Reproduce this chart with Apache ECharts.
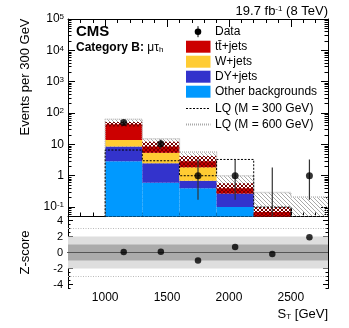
<!DOCTYPE html>
<html>
<head>
<meta charset="utf-8">
<script src="https://cdn.jsdelivr.net/npm/echarts@6/dist/echarts.min.js"></script>
<style>
html, body { margin: 0; padding: 0; background: #fff; }
#chart { width: 349px; height: 328px; }
</style>
</head>
<body>
<div id="chart"></div>
<script>
// bin edges of S_T (GeV)
const edges = [1000, 1300, 1600, 1900, 2200, 2500, 2800]
// backgrounds, events per bin, stacked bottom -> top
const other = [2.9, 0.6, 0.40, 0.10, 0, 0]
const dyJets = [5.6, 1.9, 0.29, 0.17, 0, 0]
const wJets = [5.4, 2.9, 1.16, 0, 0, 0]
const ttJets = [30, 3.1, 1.05, 0.13, 0.07, 0]
// background uncertainty band
const bandLow = [37, 5.4, 1.85, 0.27, 0.04, 0]
const bandHigh = [52, 12.1, 4.25, 0.57, 0.1, 0]
// signal
const lq300 = [6.6, 3.0, 1.0, 3.3, 0.1, 0.02]
const lq600 = [63, 15.2, 5.7, 1.0, 0.29, 0.21]
// observed
const obs = [50, 10.5, 1, 1, 0, 1]
const obsLow = [43, 7.3, 0.17, 0.17, 0, 0.17]
const obsHigh = [57, 14.3, 3.3, 3.3, 1.84, 3.3]
const zScore = [0.05, 0.1, -1.0, 0.7, -0.2, 1.9]
// ticks
const xTicks = [1000, 1500, 2000, 2500]
const yTicks = [0.1, 1, 10, 100, 1000, 10000, 100000]
const zTicks = [-4, -2, 0, 2, 4]
const zBands = [2, 1]
const zLines = [3, -3]

const FONT = '"Liberation Sans", Arial, sans-serif'
const colors = {tt: '#cc0000', w: '#ffcc33', dy: '#3333cc', other: '#0099ff'}

const xMinor = []
for (let v = 800; v < 2800; v += 100) xMinor.push(v)
const yMinor = []
for (let e = -2; e < 5; e++) {
  for (let k = 2; k < 10; k++) {
    const v = k * Math.pow(10, e)
    if (v > 0.05 && v < 1e5) yMinor.push(v)
  }
}
const zMinor = []
for (let v = -4.5; v <= 4.5; v += 0.5) zMinor.push(v)

const centers = edges.slice(0, -1).map((e, i) => (e + edges[i + 1]) / 2)

// small pixel patterns for hatched fills
function pattern(size, pix, color) {
  const c = document.createElement('canvas')
  c.width = c.height = size
  const g = c.getContext('2d')
  g.fillStyle = color
  pix.forEach(p => g.fillRect(p[0], p[1], 1, 1))
  return {image: c, repeat: 'repeat'}
}
const greyHatch = pattern(4, [[0, 0], [1, 1], [2, 2], [3, 3]], '#a9a9a9')
const redHatch = pattern(4, [[0, 0], [1, 1], [2, 2], [3, 3], [3, 0], [2, 1], [1, 2], [0, 3]], '#7a0000')

function rect(api, x0, x1, lo, hi, style) {
  const a = api.coord([x0, hi])
  const b = api.coord([x1, lo])
  return {type: 'rect', shape: {x: a[0], y: a[1], width: b[0] - a[0], height: b[1] - a[1]}, style: style}
}

function boxSeries(lows, highs, style, z) {
  const items = []
  lows.forEach((lo, i) => {
    if (highs[i] > lo) items.push([edges[i], edges[i + 1], Math.max(lo, 1e-3), highs[i]])
  })
  return {
    type: 'custom', xAxisIndex: 0, yAxisIndex: 0, clip: true, z: z,
    encode: {x: [0, 1], y: 3},
    data: items,
    renderItem: (params, api) => rect(api, api.value(0), api.value(1), api.value(2), api.value(3), style)
  }
}

// stacking
const stackList = [[other, colors.other], [dyJets, colors.dy], [wJets, colors.w], [ttJets, colors.tt]]
let base = edges.slice(0, -1).map(() => 0)
const stackSeries = stackList.map(([vals, col]) => {
  const top = base.map((b, i) => b + vals[i])
  const s = boxSeries(base, top, {fill: col}, 2)
  base = top
  return s
})

function stepData(vals) {
  const d = [[edges[0], 1e-3]]
  vals.forEach((v, i) => d.push([edges[i], v]))
  d.push([edges[edges.length - 1], vals[vals.length - 1]])
  return d
}

function xAxisSet(grid, labels, majorLen, minorLen) {
  const base = {type: 'value', gridIndex: grid, min: 700, max: 2800, splitLine: {show: false}}
  const line = {show: true, lineStyle: {color: '#000', width: 1}}
  const major = {inside: true, customValues: xTicks, length: majorLen, lineStyle: {color: '#000'}}
  const minor = {inside: true, customValues: xMinor, length: minorLen, lineStyle: {color: '#000'}}
  const lab = labels
    ? {customValues: xTicks, fontSize: 12, color: '#000', margin: 3, fontFamily: FONT, formatter: v => String(v)}
    : {show: false}
  return [
    {...base, position: 'bottom', axisLine: line, axisTick: major, axisLabel: lab},
    {...base, position: 'bottom', axisLine: {show: false}, axisTick: minor, axisLabel: {show: false}},
    {...base, position: 'top', axisLine: line, axisTick: major, axisLabel: {show: false}},
    {...base, position: 'top', axisLine: {show: false}, axisTick: minor, axisLabel: {show: false}}
  ]
}

function yAxisSet(grid, base, majors, minors, lab, majorLen, minorLen) {
  const line = {show: true, lineStyle: {color: '#000', width: 1}}
  const major = {inside: true, customValues: majors, length: majorLen, lineStyle: {color: '#000'}}
  const minor = {inside: true, customValues: minors, length: minorLen, lineStyle: {color: '#000'}}
  base = {...base, gridIndex: grid, splitLine: {show: false}}
  return [
    {...base, position: 'left', axisLine: line, axisTick: major, axisLabel: lab},
    {...base, position: 'left', axisLine: {show: false}, axisTick: minor, axisLabel: {show: false}},
    {...base, position: 'right', axisLine: line, axisTick: major, axisLabel: {show: false}},
    {...base, position: 'right', axisLine: {show: false}, axisTick: minor, axisLabel: {show: false}}
  ]
}

const logLabel = {
  customValues: yTicks, fontSize: 12, color: '#000', margin: 4, fontFamily: FONT,
  formatter: v => {
    const e = Math.round(Math.log10(v))
    if (e === 0) return '1'
    if (e === 1) return '10'
    return '10{sup|' + e + '}'
  },
  rich: {sup: {fontSize: 8, verticalAlign: 'top', fontFamily: FONT, color: '#000'}}
}
const zLabel = {customValues: zTicks, fontSize: 11, color: '#000', margin: 5, fontFamily: FONT}

const legendRows = [31.7, 46.7, 61.7, 76.7, 91.7, 108.5, 124.5]
const legendItems = [
  {label: 'Data', kind: 'data'},
  {label: 'tt\u0304+jets', kind: 'box', color: colors.tt},
  {label: 'W+jets', kind: 'box', color: colors.w},
  {label: 'DY+jets', kind: 'box', color: colors.dy},
  {label: 'Other backgrounds', kind: 'box', color: colors.other},
  {label: 'LQ (M = 300 GeV)', kind: 'dash'},
  {label: 'LQ (M = 600 GeV)', kind: 'dot'}
]
const legendGraphic = []
legendItems.forEach((it, i) => {
  const y = legendRows[i]
  if (it.kind === 'data') {
    legendGraphic.push({type: 'line', shape: {x1: 198, y1: y - 5.5, x2: 198, y2: y + 5.5}, style: {stroke: '#000', lineWidth: 1}})
    legendGraphic.push({type: 'circle', shape: {cx: 198, cy: y, r: 3.3}, style: {fill: '#000'}})
  } else if (it.kind === 'box') {
    legendGraphic.push({type: 'rect', shape: {x: 186, y: y - 6, width: 24.5, height: 12}, style: {fill: it.color}})
  } else if (it.kind === 'dash') {
    legendGraphic.push({type: 'line', shape: {x1: 186, y1: y, x2: 210.5, y2: y}, style: {stroke: '#000', lineWidth: 1, lineDash: [2, 1.5]}})
  } else {
    legendGraphic.push({type: 'line', shape: {x1: 186, y1: y, x2: 210.5, y2: y}, style: {stroke: '#aaa', lineWidth: 2, lineDash: [1, 1]}})
  }
  legendGraphic.push({type: 'text', x: 215, y: y, style: {text: it.label, fontSize: 12, fontFamily: FONT, fill: '#000', verticalAlign: 'middle'}})
})

const chart = echarts.init(document.getElementById('chart'))
const option = {
  animation: false,
  backgroundColor: '#fff',
  grid: [
    {left: 68, top: 19, width: 260, height: 197.5},
    {left: 68, top: 216.5, width: 260, height: 72}
  ],
  xAxis: [...xAxisSet(0, false, 8, 4), ...xAxisSet(1, true, 6, 3.5)],
  yAxis: [
    ...yAxisSet(0, {type: 'log', logBase: 10, min: 0.05, max: 1e5}, yTicks, yMinor, logLabel, 7, 3.5),
    ...yAxisSet(1, {type: 'value', min: -4.5, max: 4.5}, zTicks, zMinor, zLabel, 5, 2.5)
  ],
  graphic: [
    {type: 'text', x: 328, y: 11, style: {text: '19.7 fb{sup|-1} (8 TeV)', fontSize: 13, fontFamily: FONT, fill: '#000', align: 'right', verticalAlign: 'middle', rich: {sup: {fontSize: 8, verticalAlign: 'top', fontFamily: FONT}}}},
    {type: 'text', x: 76, y: 32, style: {text: 'CMS', fontSize: 15, fontWeight: 'bold', fontFamily: FONT, fill: '#000', verticalAlign: 'middle'}},
    {type: 'text', x: 76, y: 47.5, style: {text: '{b|Category B:} {g|\u03bc\u03c4}{s|h}', fontFamily: FONT, fill: '#000', verticalAlign: 'middle', rich: {b: {fontSize: 12, fontWeight: 'bold', fontFamily: FONT}, g: {fontSize: 12, fontFamily: FONT}, s: {fontSize: 8, verticalAlign: 'bottom', fontFamily: FONT}}}},
    {type: 'text', x: 25, y: 77, rotation: Math.PI / 2, style: {text: 'Events per 300 GeV', fontSize: 13, fontFamily: FONT, fill: '#000', align: 'center', verticalAlign: 'middle'}},
    {type: 'text', x: 25, y: 252.5, rotation: Math.PI / 2, style: {text: 'Z-score', fontSize: 13, fontFamily: FONT, fill: '#000', align: 'center', verticalAlign: 'middle'}},
    {type: 'text', x: 328, y: 314, style: {text: 'S{sub|T} [GeV]', fontSize: 13, fontFamily: FONT, fill: '#000', align: 'right', verticalAlign: 'middle', rich: {sub: {fontSize: 8, verticalAlign: 'bottom', fontFamily: FONT}}}},
    ...legendGraphic
  ],
  series: [
    boxSeries(lq600.map(() => 0), lq600, {fill: greyHatch}, 1),
    ...stackSeries,
    boxSeries(bandLow, bandHigh, {fill: redHatch}, 3),
    {
      type: 'line', xAxisIndex: 0, yAxisIndex: 0, step: 'end', symbol: 'none', z: 4,
      data: stepData(lq600),
      lineStyle: {color: '#bbb', width: 1.5, type: [1, 1]}
    },
    {
      type: 'line', xAxisIndex: 0, yAxisIndex: 0, step: 'end', symbol: 'none', z: 4,
      data: stepData(lq300),
      lineStyle: {color: '#000', width: 1, type: [2, 1.5]}
    },
    {
      type: 'custom', xAxisIndex: 0, yAxisIndex: 0, clip: true, z: 5,
      data: centers.map((c, i) => [c, Math.max(obsLow[i], 1e-3), obsHigh[i]]),
      encode: {x: 0, y: 2},
      renderItem: (params, api) => {
        const a = api.coord([api.value(0), api.value(1)])
        const b = api.coord([api.value(0), api.value(2)])
        return {type: 'line', shape: {x1: a[0], y1: a[1], x2: b[0], y2: b[1]}, style: {stroke: '#333', lineWidth: 1.2}}
      }
    },
    {
      type: 'scatter', xAxisIndex: 0, yAxisIndex: 0, z: 6, symbolSize: 7,
      itemStyle: {color: '#000'},
      data: centers.map((c, i) => [c, obs[i]]).filter(d => d[1] > 0)
    },
    ...zBands.map((b, k) => ({
      type: 'custom', xAxisIndex: 4, yAxisIndex: 4, clip: true, z: 1,
      data: [[700, 2800, -b, b]],
      encode: {x: [0, 1], y: [2, 3]},
      renderItem: (params, api) => rect(api, api.value(0), api.value(1), api.value(2), api.value(3), {fill: k === 0 ? '#dedede' : '#ababab'})
    })),
    {
      type: 'line', xAxisIndex: 4, yAxisIndex: 4, symbol: 'none', z: 2,
      data: [[700, 0], [2800, 0]],
      lineStyle: {color: '#555', width: 1.2}
    },
    ...zLines.map(v => ({
      type: 'line', xAxisIndex: 4, yAxisIndex: 4, symbol: 'none', z: 2,
      data: [[700, v], [2800, v]],
      lineStyle: {color: '#bbb', width: 1, type: [1, 1.5]}
    })),
    {
      type: 'scatter', xAxisIndex: 4, yAxisIndex: 4, z: 6, symbolSize: 6.5,
      itemStyle: {color: '#000'},
      data: centers.map((c, i) => [c, zScore[i]])
    }
  ]
}
chart.setOption(option)
</script>
</body>
</html>
